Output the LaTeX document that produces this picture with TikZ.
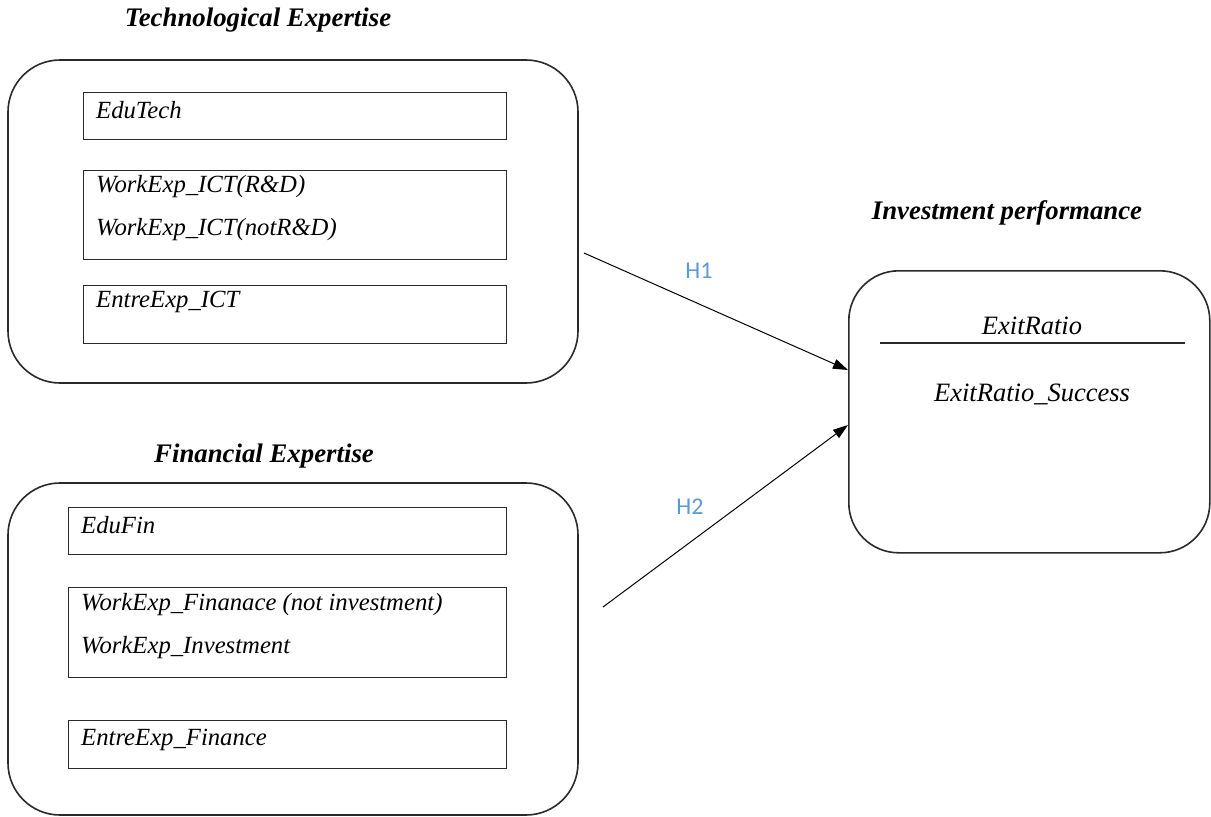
\documentclass[tikz,border=0pt]{standalone}
\usepackage{fontspec}
\setmainfont{Liberation Serif}
\newfontfamily\hlabfont{Carlito}
\usetikzlibrary{arrows.meta}
\definecolor{hblue}{HTML}{5B9BD5}
\definecolor{lineg}{HTML}{2A2A2A}
\begin{document}
\begin{tikzpicture}[x=1pt,y=-1pt,
  outerbox/.style={draw=lineg,line width=1.6pt,rounded corners=52pt},
  innerbox/.style={draw=lineg,line width=1.4pt},
  ttl/.style={font=\fontsize{26.8}{30}\selectfont\bfseries\itshape,inner sep=0pt},
  itm/.style={font=\fontsize{24.7}{28}\selectfont\itshape,anchor=west,inner sep=0pt},
  rtxt/.style={font=\fontsize{26.5}{30}\selectfont\itshape,inner sep=0pt},
  hlab/.style={font=\hlabfont\fontsize{24}{27}\selectfont,text=hblue,inner sep=0pt},
  conn/.style={draw=black,line width=1pt,-{Triangle[length=15pt,width=10pt]}}]
\useasboundingbox (0,0) rectangle (1211,817);
% Technological expertise
\node[ttl] (t1) at (258,20) {Technological Expertise};
\draw[outerbox] (8,60) rectangle (578,383);
\node[innerbox,minimum width=423pt,minimum height=47pt,anchor=north west] (e1) at (83,92) {};
\node[innerbox,minimum width=423pt,minimum height=89pt,anchor=north west] (w1) at (83,170) {};
\node[innerbox,minimum width=423pt,minimum height=58pt,anchor=north west] (x1) at (83,285) {};
\node[itm] (e1t) at (96,110) {EduTech};
\node[itm] (w1a) at (96,187) {WorkExp\_ICT(R\&D)};
\node[itm] (w1b) at (96,230) {WorkExp\_ICT(notR\&D)};
\node[itm] (x1t) at (96,302) {EntreExp\_ICT};
% Financial expertise
\node[ttl] (t2) at (264,456) {Financial Expertise};
\draw[outerbox] (8,483) rectangle (578,815);
\node[innerbox,minimum width=438pt,minimum height=47pt,anchor=north west] (e2) at (68,507) {};
\node[innerbox,minimum width=438pt,minimum height=90pt,anchor=north west] (w2) at (68,587) {};
\node[innerbox,minimum width=438pt,minimum height=48pt,anchor=north west] (x2) at (68,720) {};
\node[itm] (e2t) at (81,525) {EduFin};
\node[itm] (w2a) at (81,605) {WorkExp\_Finanace (not investment)};
\node[itm] (w2b) at (81,648) {WorkExp\_Investment};
\node[itm] (x2t) at (81,740) {EntreExp\_Finance};
% Investment performance
\node[ttl] (t3) at (1007,213) {Investment performance};
\node[draw=lineg,line width=1.6pt,rounded corners=50pt,minimum width=361pt,minimum height=282pt,anchor=north west] (rb) at (848,270) {};
\node[rtxt] (er) at (1032,326) {ExitRatio};
\coordinate (ul) at (880,343);
\coordinate (ur) at (1185,343);
\draw[draw=lineg,line width=1.3pt] (ul) -- (ur);
\node[rtxt] (ers) at (1032,394) {ExitRatio\_Success};
% connectors
\coordinate (h1s) at (584,253);
\coordinate (h1e) at (848,370);
\coordinate (h2s) at (603,607);
\coordinate (h2e) at (848,425);
\draw[conn] (h1s) -- (h1e);
\draw[conn] (h2s) -- (h2e);
\node[hlab] (h1) at (699,271) {H1};
\node[hlab] (h2) at (690,507) {H2};
\end{tikzpicture}
\end{document}
